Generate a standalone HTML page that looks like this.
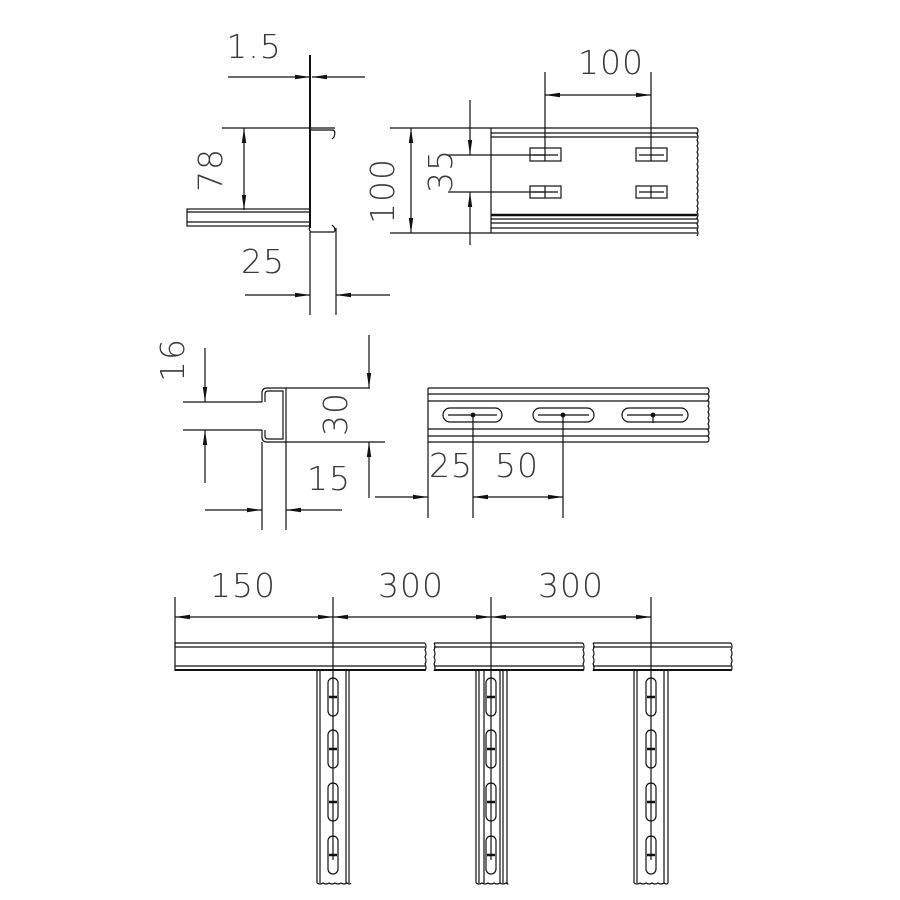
<!DOCTYPE html>
<html><head><meta charset="utf-8"><style>
html,body{margin:0;padding:0;background:#fff}
svg{display:block}
text{font-family:"DejaVu Sans ExtraLight","DejaVu Sans","Liberation Sans",sans-serif;font-size:33px;fill:#3a3a3a;font-weight:200;text-anchor:middle;letter-spacing:1px}
</style></head><body>
<svg width="900" height="900" viewBox="0 0 900 900" xmlns="http://www.w3.org/2000/svg">
<defs>
<marker id="a" markerWidth="16" markerHeight="6" refX="15" refY="3" orient="auto" markerUnits="userSpaceOnUse">
<path d="M0,0.8 L15,3 L0,5.2 Z" fill="#111"/>
</marker>
</defs>
<g stroke="#111" stroke-width="1.2" fill="none">
<!-- ===== TOP LEFT profile ===== -->
<line x1="310" y1="55" x2="310" y2="228" stroke-width="2"/>
<line x1="228" y1="77" x2="310" y2="77" marker-end="url(#a)"/>
<line x1="365" y1="77" x2="312" y2="77" marker-end="url(#a)"/>
<line x1="222" y1="128" x2="335" y2="128"/>
<path d="M310,130 L333,130 Q336,131 334,137 L332,139"/>
<line x1="244" y1="170" x2="244" y2="128" marker-end="url(#a)"/>
<line x1="244" y1="170" x2="244" y2="210" marker-end="url(#a)"/>
<rect x="187" y="209" width="123" height="17"/>
<line x1="187" y1="212" x2="310" y2="212"/>
<line x1="187" y1="222" x2="310" y2="222"/>
<path d="M310,226 Q308,230 311,232 L334,232 Q336,230 334,227 L332,225"/>
<line x1="310" y1="232" x2="310" y2="315"/>
<line x1="336" y1="228" x2="336" y2="315"/>
<line x1="245" y1="295" x2="310" y2="295" marker-end="url(#a)"/>
<line x1="390" y1="295" x2="336" y2="295" marker-end="url(#a)"/>

<!-- ===== TOP RIGHT rail ===== -->
<line x1="390" y1="128" x2="697" y2="128"/>
<line x1="390" y1="233" x2="697" y2="233"/>
<line x1="491" y1="128" x2="491" y2="233"/>
<line x1="491" y1="133" x2="697" y2="133"/>
<line x1="491" y1="137" x2="697" y2="137"/>
<line x1="491" y1="215" x2="697" y2="215" stroke-width="2.5"/>
<line x1="491" y1="219" x2="697" y2="219"/>
<line x1="491" y1="223" x2="697" y2="223"/>
<line x1="491" y1="228" x2="697" y2="228"/>
<path d="M697,128 q2,3 0,6 q2,3 0,6 q2,3 0,6 q2,3 0,6 q2,3 0,6 q2,3 0,6 q2,3 0,6 q2,3 0,6 q2,3 0,6 q2,3 0,6 q2,3 0,6 q2,3 0,6 q2,3 0,6 q2,3 0,6 q2,3 0,6 q2,3 0,6 q2,3 0,6 q2,3 0,6"/>
<line x1="411" y1="180" x2="411" y2="128" marker-end="url(#a)"/>
<line x1="411" y1="180" x2="411" y2="233" marker-end="url(#a)"/>
<line x1="470" y1="100" x2="470" y2="155" marker-end="url(#a)"/>
<line x1="470" y1="245" x2="470" y2="192" marker-end="url(#a)"/>
<line x1="448" y1="155" x2="545" y2="155"/>
<line x1="448" y1="192" x2="545" y2="192"/>
<line x1="545" y1="72" x2="545" y2="161"/>
<line x1="651" y1="72" x2="651" y2="161"/>
<line x1="598" y1="95" x2="545" y2="95" marker-end="url(#a)"/>
<line x1="598" y1="95" x2="651" y2="95" marker-end="url(#a)"/>
<rect x="530" y="148" width="31" height="13"/><line x1="533" y1="155" x2="558" y2="155"/>
<rect x="530" y="186" width="31" height="12"/><line x1="533" y1="192" x2="558" y2="192"/><line x1="545" y1="186" x2="545" y2="198"/>
<rect x="636" y="148" width="31" height="13"/><line x1="639" y1="155" x2="664" y2="155"/>
<rect x="636" y="186" width="31" height="12"/><line x1="639" y1="192" x2="664" y2="192"/><line x1="651" y1="186" x2="651" y2="198"/>

<!-- ===== MIDDLE LEFT C profile ===== -->
<line x1="183" y1="402" x2="262" y2="402"/>
<line x1="183" y1="430" x2="262" y2="430"/>
<path d="M262,402 L262,393 Q262,388 267,388 L286,388 L286,442 L267,442 Q262,442 262,437 L262,430"/>
<path d="M265,402 L265,394 Q265,391 268,391 L283,391 L283,439 L268,439 Q265,439 265,436 L265,430"/>
<line x1="286" y1="388" x2="370" y2="388"/>
<line x1="286" y1="442" x2="385" y2="442"/>
<line x1="205" y1="348" x2="205" y2="402" marker-end="url(#a)"/>
<line x1="205" y1="483" x2="205" y2="430" marker-end="url(#a)"/>
<line x1="369" y1="335" x2="369" y2="388" marker-end="url(#a)"/>
<line x1="369" y1="498" x2="369" y2="442" marker-end="url(#a)"/>
<line x1="262" y1="442" x2="262" y2="530"/>
<line x1="286" y1="442" x2="286" y2="530"/>
<line x1="205" y1="510" x2="262" y2="510" marker-end="url(#a)"/>
<line x1="342" y1="510" x2="286" y2="510" marker-end="url(#a)"/>

<!-- ===== MIDDLE RIGHT rail ===== -->
<line x1="428" y1="388" x2="708" y2="388"/>
<line x1="428" y1="394" x2="708" y2="394"/>
<line x1="428" y1="401" x2="708" y2="401"/>
<line x1="428" y1="429" x2="708" y2="429"/>
<line x1="428" y1="436" x2="708" y2="436"/>
<line x1="428" y1="442" x2="708" y2="442"/>
<line x1="428" y1="388" x2="428" y2="518"/>
<path d="M708,388 q2,3 0,6 q2,3 0,6 q2,3 0,6 q2,3 0,6 q2,3 0,6 q2,3 0,6 q2,3 0,6 q2,3 0,6 q2,3 0,6"/>
<rect x="443" y="408" width="59" height="14" rx="7"/>
<rect x="533" y="408" width="61" height="14" rx="7"/>
<rect x="622" y="408" width="66" height="14" rx="7"/>
<line x1="448" y1="415" x2="497" y2="415"/>
<line x1="538" y1="415" x2="589" y2="415"/>
<line x1="627" y1="415" x2="683" y2="415"/>
<circle cx="473" cy="415" r="1.8" fill="#111"/>
<circle cx="563" cy="415" r="1.8" fill="#111"/>
<circle cx="653" cy="415" r="1.8" fill="#111"/>
<line x1="653" y1="415" x2="653" y2="423"/>
<line x1="473" y1="415" x2="473" y2="518"/>
<line x1="563" y1="415" x2="563" y2="518"/>
<line x1="375" y1="497" x2="428" y2="497" marker-end="url(#a)"/>
<line x1="518" y1="497" x2="473" y2="497" marker-end="url(#a)"/>
<line x1="518" y1="497" x2="563" y2="497" marker-end="url(#a)"/>

<!-- ===== BOTTOM ===== -->
<line x1="175" y1="597" x2="175" y2="645"/>
<line x1="333" y1="597" x2="333" y2="860"/>
<line x1="491" y1="597" x2="491" y2="860"/>
<line x1="651" y1="597" x2="651" y2="860"/>
<line x1="254" y1="617" x2="175" y2="617" marker-end="url(#a)"/>
<line x1="254" y1="617" x2="333" y2="617" marker-end="url(#a)"/>
<line x1="412" y1="617" x2="333" y2="617" marker-end="url(#a)"/>
<line x1="412" y1="617" x2="491" y2="617" marker-end="url(#a)"/>
<line x1="571" y1="617" x2="491" y2="617" marker-end="url(#a)"/>
<line x1="571" y1="617" x2="651" y2="617" marker-end="url(#a)"/>

<g>
<line x1="175" y1="643" x2="425" y2="643"/><line x1="175" y1="647" x2="425" y2="647"/>
<line x1="175" y1="666" x2="425" y2="666"/><line x1="175" y1="670" x2="425" y2="670" stroke-width="2"/>
<line x1="175" y1="643" x2="175" y2="671"/>
<path d="M425,643 q2,3.5 0,7 q2,3.5 0,7 q2,3.5 0,7 q2,3.5 0,7"/>
<line x1="434" y1="643" x2="583" y2="643"/><line x1="434" y1="647" x2="583" y2="647"/>
<line x1="434" y1="666" x2="583" y2="666"/><line x1="434" y1="670" x2="583" y2="670" stroke-width="2"/>
<path d="M434,643 q2,3.5 0,7 q2,3.5 0,7 q2,3.5 0,7 q2,3.5 0,7"/>
<path d="M583,643 q2,3.5 0,7 q2,3.5 0,7 q2,3.5 0,7 q2,3.5 0,7"/>
<line x1="593" y1="643" x2="731" y2="643"/><line x1="593" y1="647" x2="731" y2="647"/>
<line x1="593" y1="666" x2="731" y2="666"/><line x1="593" y1="670" x2="731" y2="670" stroke-width="2"/>
<path d="M593,643 q2,3.5 0,7 q2,3.5 0,7 q2,3.5 0,7 q2,3.5 0,7"/>
<path d="M731,643 q2,3.5 0,7 q2,3.5 0,7 q2,3.5 0,7 q2,3.5 0,7"/>
</g>
<g>
<line x1="317" y1="671" x2="317" y2="883"/><line x1="320" y1="671" x2="320" y2="883"/>
<line x1="346" y1="671" x2="346" y2="883"/><line x1="349" y1="671" x2="349" y2="883"/>
<path d="M317,883 q3,2 6,0 q3,2 6,0 q3,2 6,0 q3,2 6,0 q3,2 6,0 q3,2 4,0"/>
<line x1="476" y1="671" x2="476" y2="883"/><line x1="479" y1="671" x2="479" y2="883"/><line x1="484" y1="671" x2="484" y2="883"/>
<line x1="500" y1="671" x2="500" y2="883"/><line x1="503" y1="671" x2="503" y2="883"/><line x1="507" y1="671" x2="507" y2="883"/>
<path d="M476,883 q3,2 6,0 q3,2 6,0 q3,2 6,0 q3,2 6,0 q3,2 6,0 q3,2 1,0"/>
<line x1="634" y1="671" x2="634" y2="883"/><line x1="637" y1="671" x2="637" y2="883"/>
<line x1="664" y1="671" x2="664" y2="883"/><line x1="668" y1="671" x2="668" y2="883"/>
<path d="M634,883 q3,2 6,0 q3,2 6,0 q3,2 6,0 q3,2 6,0 q3,2 6,0 q3,2 4,0"/>
</g>
<g>
<rect x="328" y="678" width="10" height="38" rx="5"/><rect x="328" y="730" width="10" height="38" rx="5"/>
<rect x="328" y="783" width="10" height="38" rx="5"/><rect x="328" y="836" width="10" height="38" rx="5"/>
<rect x="486" y="678" width="10" height="38" rx="5"/><rect x="486" y="730" width="10" height="38" rx="5"/>
<rect x="486" y="783" width="10" height="38" rx="5"/><rect x="486" y="836" width="10" height="38" rx="5"/>
<rect x="646" y="678" width="10" height="38" rx="5"/><rect x="646" y="730" width="10" height="38" rx="5"/>
<rect x="646" y="783" width="10" height="38" rx="5"/><rect x="646" y="836" width="10" height="38" rx="5"/>
<line x1="329" y1="697" x2="337" y2="697" stroke-width="2.5"/><line x1="329" y1="749" x2="337" y2="749" stroke-width="2.5"/>
<line x1="329" y1="802" x2="337" y2="802" stroke-width="2.5"/><line x1="329" y1="855" x2="337" y2="855" stroke-width="2.5"/>
<line x1="487" y1="697" x2="495" y2="697" stroke-width="2.5"/><line x1="487" y1="749" x2="495" y2="749" stroke-width="2.5"/>
<line x1="487" y1="802" x2="495" y2="802" stroke-width="2.5"/><line x1="487" y1="855" x2="495" y2="855" stroke-width="2.5"/>
<line x1="647" y1="697" x2="655" y2="697" stroke-width="2.5"/><line x1="647" y1="749" x2="655" y2="749" stroke-width="2.5"/>
<line x1="647" y1="802" x2="655" y2="802" stroke-width="2.5"/><line x1="647" y1="855" x2="655" y2="855" stroke-width="2.5"/>
</g>
</g>
<!-- labels -->
<text x="254" y="58">1.5</text>
<text transform="translate(222,170) rotate(-90)">78</text>
<text x="263" y="273">25</text>
<text transform="translate(394,191) rotate(-90)">100</text>
<text transform="translate(452,171) rotate(-90)">35</text>
<text x="611" y="74">100</text>
<text transform="translate(184,360) rotate(-90)">16</text>
<text transform="translate(347,414) rotate(-90)">30</text>
<text x="329" y="490">15</text>
<text x="451" y="477">25</text>
<text x="517" y="477">50</text>
<text x="243" y="597">150</text>
<text x="411" y="597">300</text>
<text x="571" y="597">300</text>
</svg>
</body></html>
